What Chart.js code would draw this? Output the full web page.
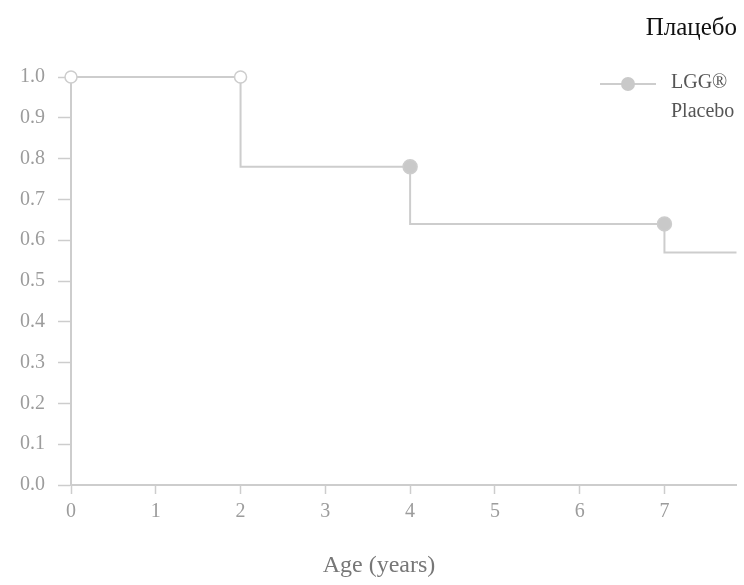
<!DOCTYPE html>
<html>
<head>
<meta charset="utf-8">
<title>Age (years)</title>
<script src="https://cdn.jsdelivr.net/npm/chart.js@4.4.1/dist/chart.umd.min.js"></script>
<style>
  html, body { margin: 0; padding: 0; background: #fff; }
  #wrap { position: relative; width: 744px; height: 585px; }
  #topTitle {
    position: absolute; right: 7px; top: 13px;
    font-family: "Liberation Serif", serif; font-size: 25px; color: #111;
  }
</style>
</head>
<body>
<div id="wrap">
  <canvas id="kmChart" width="744" height="585"></canvas>
  <div id="topTitle">Плацебо</div>
</div>
<script>
// Survival curve values
const ages = [0, 2, 4, 7, 7.85];
const lggValues = [1.0, 1.0, 0.78, 0.64, 0.57];
const xTicks = [0, 1, 2, 3, 4, 5, 6, 7];
const yTicks = [0, 0.1, 0.2, 0.3, 0.4, 0.5, 0.6, 0.7, 0.8, 0.9, 1.0];
const seriesNames = ["LGG®", "Placebo"];
const xTitle = "Age (years)";

const lineGray = "#cdcdcd";
const textGray = "#9c9c9c";
const serif = "'Liberation Serif', 'Times New Roman', serif";

// Legend and axis title drawn by hand (matches the scanned layout)
const extraText = {
  id: "extraText",
  afterDraw(chart) {
    const ctx = chart.ctx;
    ctx.save();
    // legend marker for LGG
    ctx.strokeStyle = lineGray;
    ctx.lineWidth = 2;
    ctx.beginPath();
    ctx.moveTo(600, 84);
    ctx.lineTo(656, 84);
    ctx.stroke();
    ctx.fillStyle = "#c9c9c9";
    ctx.beginPath();
    ctx.arc(628, 84, 7, 0, Math.PI * 2);
    ctx.fill();
    // legend labels
    ctx.fillStyle = "#555";
    ctx.font = "20px " + serif;
    ctx.textBaseline = "middle";
    ctx.textAlign = "left";
    ctx.fillText(seriesNames[0], 671, 83);
    ctx.fillText(seriesNames[1], 671, 112);
    // x axis title
    ctx.fillStyle = "#777";
    ctx.font = "24px " + serif;
    ctx.textAlign = "center";
    ctx.fillText(xTitle, 379, 566);
    ctx.restore();
  },
};

const chart = new Chart(document.getElementById("kmChart"), {
  type: "line",
  data: {
    datasets: [
      {
        label: seriesNames[0],
        data: ages.map((a, i) => ({ x: a, y: lggValues[i] })),
        stepped: "after",
        borderColor: lineGray,
        borderWidth: 2,
        pointRadius: [6, 6, 7, 7, 0],
        pointBackgroundColor: ["#fff", "#fff", "#c9c9c9", "#c9c9c9", "#c9c9c9"],
        pointBorderColor: lineGray,
        pointBorderWidth: 1.5,
        clip: false,
      },
    ],
  },
  plugins: [extraText],
  options: {
    responsive: false,
    animation: false,
    layout: { padding: { top: 77, right: 7, left: 0, bottom: 0 } },
    plugins: {
      legend: { display: false },
      tooltip: { enabled: false },
    },
    scales: {
      x: {
        type: "linear",
        min: 0,
        max: 7.85,
        afterBuildTicks: (s) => { s.ticks = xTicks.map((v) => ({ value: v })); },
        afterFit: (s) => { s.height = 100; },
        grid: {
          drawOnChartArea: false,
          tickLength: 9,
          tickColor: lineGray,
          tickWidth: 1.5,
        },
        border: { color: lineGray, width: 2 },
        ticks: {
          color: textGray,
          padding: 6,
          font: { family: serif, size: 20 },
        },
      },
      y: {
        min: 0,
        max: 1.0,
        afterBuildTicks: (s) => { s.ticks = yTicks.map((v) => ({ value: v })); },
        afterFit: (s) => { s.width = 71; },
        grid: {
          drawOnChartArea: false,
          tickLength: 13,
          tickColor: lineGray,
          tickWidth: 1.5,
        },
        border: { color: lineGray, width: 2 },
        ticks: {
          color: textGray,
          padding: 13,
          font: { family: serif, size: 20 },
          callback: (v) => Number(v).toFixed(1),
        },
      },
    },
  },
});
</script>
</body>
</html>
